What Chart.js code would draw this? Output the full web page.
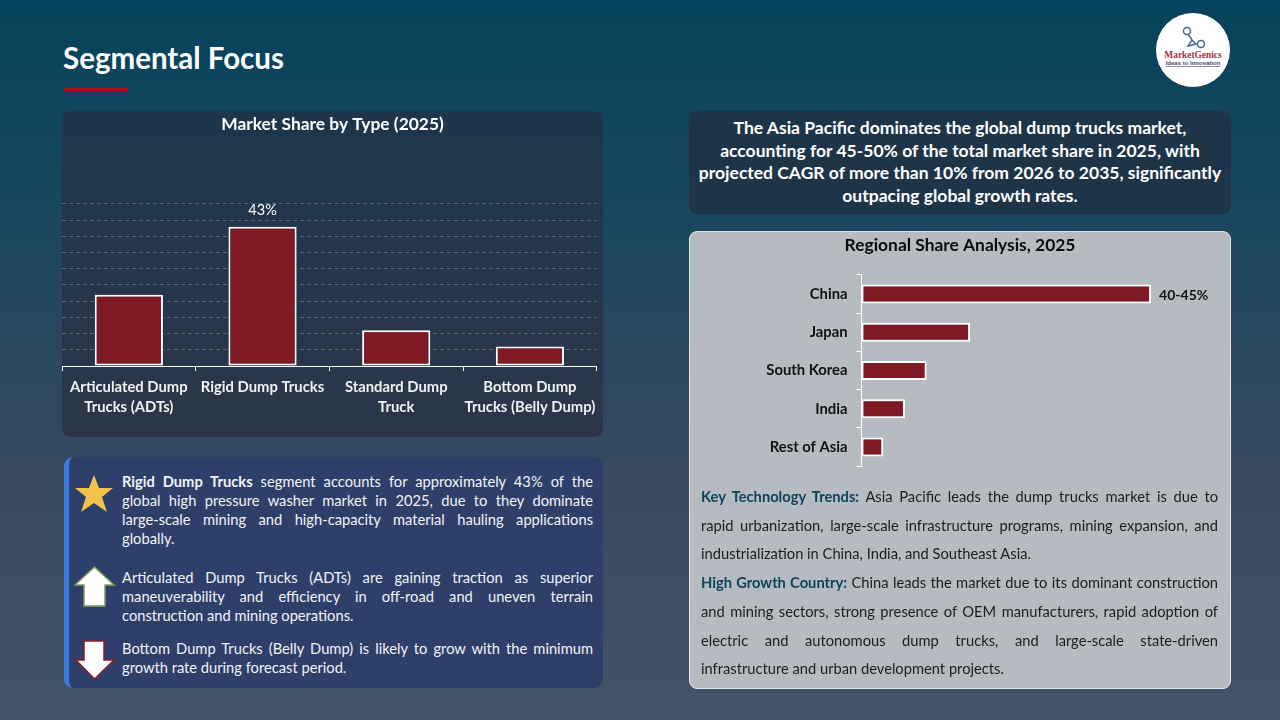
<!DOCTYPE html>
<html lang="en">
<head>
<meta charset="UTF-8" />
<title>Segmental Focus</title>
<style>
  body {
    margin: 0;
    width: 1280px;
    height: 720px;
    overflow: hidden;
    position: relative;
    font-family: 'Lato', 'Open Sans', sans-serif;
    background: linear-gradient(180deg, #04435b 0%, #1f4760 35%, #36495f 65%, #445368 100%);
    color: #fff;
  }
  .abs { position: absolute; }
  h1 {
    position: absolute;
    left: 63px;
    top: 40px;
    margin: 0;
    font-size: 29.5px;
    line-height: 36px;
    font-weight: 700;
  }
  .rule { left: 64px; top: 88px; width: 64px; height: 3px; background: #b30c14; }
  .panel-dark { background: #1e3549; border-radius: 8px; }
  #typePanel { left: 62px; top: 111px; width: 541px; height: 326px; border-radius: 8px; background: linear-gradient(180deg, #1d364b, #2d3649); }
  #headline {
    left: 689px; top: 111px; width: 542px; height: 103px;
    box-sizing: border-box; padding-top: 6px;
    text-align: center; font-weight: 700; font-size: 17.5px; line-height: 22.6px;
  }
  #regionPanel {
    left: 689px; top: 231px; width: 542px; height: 458px;
    box-sizing: border-box;
    background: #b6bbc2; border: 1px solid #dfe3e8; border-radius: 8px;
  }
  #notes {
    left: 64px; top: 457px; width: 539px; height: 231px;
    box-sizing: border-box;
    background: #2e3f69;
    border-left: 5px solid #3a7be0; border-radius: 9px;
  }
  .line { white-space: nowrap; text-align: justify; text-align-last: justify; }
  .line.end { text-align-last: left; }
  .block { position: absolute; font-size: 14.7px; }
  #notes .block { left: 53px; width: 471px; line-height: 19.3px; color: #f2f4f8; }
  #trends { left: 701px; top: 482px; width: 517px; font-size: 14.7px; line-height: 28.7px; color: #1c1c1c; position: absolute; }
  #trends b { color: #0c4658; }
  canvas { position: absolute; }
  #logo { left: 1154px; top: 11px; }
</style>
</head>
<body>
  <h1>Segmental Focus</h1>
  <div class="abs rule"></div>

  <svg id="logo" class="abs" width="78" height="78" viewBox="0 0 78 78">
    <circle cx="39" cy="39" r="37.5" fill="#fff" stroke="#0a3c50" stroke-width="1"/>
    <g fill="none" stroke="#4a6a94" stroke-width="1.5">
      <circle cx="33" cy="20" r="3.5"/><circle cx="47" cy="33" r="3.500"/>
      <path d="M34.500 23.500 L38 29 L34 35 L42 33 L38 29 M42 33 L44 33"/>
    </g>
    <text x="39" y="47" text-anchor="middle" font-family="'Liberation Serif', serif" font-weight="700" font-size="9.4" fill="#a2323f">MarketGenics</text>
    <text x="39" y="54" text-anchor="middle" font-family="'Liberation Sans', sans-serif" font-weight="700" font-size="6" fill="#4a3f7a" text-decoration="underline">Ideas to Innovation</text>
  </svg>

  <div id="typePanel" class="abs"><canvas id="typeChart" width="541" height="326"></canvas></div>

  <div id="headline" class="abs panel-dark">
    The Asia Pacific dominates the global dump trucks market,<br>
    accounting for 45-50% of the total market share in 2025, with<br>
    projected CAGR of more than 10% from 2026 to 2035, significantly<br>
    outpacing global growth rates.
  </div>

  <div id="regionPanel" class="abs"><canvas id="regionChart" width="540" height="252"></canvas></div>

  <div id="trends">
    <div class="line"><b>Key Technology Trends:</b> Asia Pacific leads the dump trucks market is due to</div>
    <div class="line">rapid urbanization, large-scale infrastructure programs, mining expansion, and</div>
    <div class="line end">industrialization in China, India, and Southeast Asia.</div>
    <div class="line"><b>High Growth Country:</b> China leads the market due to its dominant construction</div>
    <div class="line">and mining sectors, strong presence of OEM manufacturers, rapid adoption of</div>
    <div class="line">electric and autonomous dump trucks, and large-scale state-driven</div>
    <div class="line end">infrastructure and urban development projects.</div>
  </div>

  <div id="notes" class="abs">
    <div class="block" style="top:14.500px">
      <div class="line"><b>Rigid Dump Trucks</b> segment accounts for approximately 43% of the</div>
      <div class="line">global high pressure washer market in 2025, due to they dominate</div>
      <div class="line">large-scale mining and high-capacity material hauling applications</div>
      <div class="line end">globally.</div>
    </div>
    <div class="block" style="top:110.500px">
      <div class="line">Articulated Dump Trucks (ADTs) are gaining traction as superior</div>
      <div class="line">maneuverability and efficiency in off-road and uneven terrain</div>
      <div class="line end">construction and mining operations.</div>
    </div>
    <div class="block" style="top:182px">
      <div class="line">Bottom Dump Trucks (Belly Dump) is likely to grow with the minimum</div>
      <div class="line end">growth rate during forecast period.</div>
    </div>
  </div>

  <svg class="abs" style="left:0;top:0" width="140" height="720">
    <polygon fill="#f4c14c" points="94,475 99,488 113,488 102,497 107,512 94,503 81,512 86,497 75,488 89,488"/>
    <polygon fill="#fff" stroke="#7f9c5c" stroke-width="1.500" points="94.500,567 114,585 105,585 105,606 84,606 84,585 75,585"/>
    <polygon fill="#fff" stroke="#8c1c2b" stroke-width="1.500" points="84,641 104,641 104,660 114,660 94.500,679 76,660 84,660"/>
  </svg>

<script src="https://cdn.jsdelivr.net/npm/chart.js"></script>
<script>
  const typeCategories = [['Articulated Dump', 'Trucks (ADTs)'], 'Rigid Dump Trucks', ['Standard Dump', 'Truck'], ['Bottom Dump', 'Trucks (Belly Dump)']];
  const typeValues = [22, 43, 11, 6];
  const typeLabels = ['', '43%', '', ''];

  const regionCategories = ['China', 'Japan', 'South Korea', 'India', 'Rest of Asia'];
  const regionValues = [40, 15, 9, 6, 3];
  const regionLabels = ['40-45%', '', '', '', ''];

  const FONT = "'Lato', 'Open Sans', sans-serif";
  const BAR_FILL = '#7f1a24';

  // small replacement for the datalabels plugin, which is not available here
  function barLabelPlugin(labels, font, color, horizontal) {
    return {
      id: 'barLabels',
      afterDatasetsDraw(chart) {
        const ctx = chart.ctx;
        ctx.save();
        ctx.font = font;
        ctx.fillStyle = color;
        ctx.textBaseline = 'middle';
        chart.getDatasetMeta(0).data.forEach((bar, i) => {
          if (!labels[i]) return;
          if (horizontal) {
            ctx.textAlign = 'left';
            ctx.fillText(labels[i], bar.x + 8, bar.y + 1);
          } else {
            ctx.textAlign = 'center';
            ctx.fillText(labels[i], bar.x, bar.y - 16);
          }
        });
        ctx.restore();
      }
    };
  }

  // keep the title centred on the whole panel, not on the padded plot
  const fullWidthTitle = {
    id: 'fullWidthTitle',
    afterLayout(chart) { chart.titleBlock.right = chart.width; }
  };

  new Chart(document.getElementById('typeChart'), {
    type: 'bar',
    data: {
      labels: typeCategories,
      datasets: [{
        data: typeValues,
        backgroundColor: BAR_FILL,
        borderColor: '#ffffff',
        borderWidth: 2,
        borderSkipped: false,
        categoryPercentage: 0.51,
        barPercentage: 1
      }]
    },
    options: {
      responsive: false,
      animation: false,
      layout: { padding: { left: 0, right: 6, top: 0, bottom: 0 } },
      plugins: {
        legend: { display: false },
        tooltip: { enabled: false },
        title: {
          display: true,
          text: 'Market Share by Type (2025)',
          color: '#ffffff',
          font: { family: FONT, size: 17.4, weight: '700', lineHeight: 1.2 },
          padding: { top: 2.5, bottom: 69.6 }
        }
      },
      scales: {
        x: {
          afterFit(scale) { scale.height = 71; },
          border: { color: '#ffffff', width: 1 },
          grid: { drawOnChartArea: false, tickColor: '#ffffff', tickLength: 5 },
          ticks: {
            color: '#f0f2f4',
            autoSkip: false,
            maxRotation: 0,
            padding: 7,
            font: { family: FONT, size: 14.8, weight: '700', lineHeight: 1.3 }
          }
        },
        y: {
          min: 0,
          max: 50,
          afterFit(scale) { scale.width = 0; },
          border: { display: false, dash: [4, 3] },
          grid: { color: 'rgba(255,255,255,0.25)', drawTicks: false },
          ticks: { display: false, stepSize: 5 }
        }
      }
    },
    plugins: [barLabelPlugin(typeLabels, '14.5px ' + FONT, '#ffffff', false), fullWidthTitle]
  });

  new Chart(document.getElementById('regionChart'), {
    type: 'bar',
    data: {
      labels: regionCategories,
      datasets: [{
        data: regionValues,
        backgroundColor: BAR_FILL,
        borderColor: '#ffffff',
        borderWidth: 2,
        borderSkipped: false,
        categoryPercentage: 0.5,
        barPercentage: 1
      }]
    },
    options: {
      indexAxis: 'y',
      responsive: false,
      animation: false,
      layout: { padding: { right: 21, bottom: 0 } },
      plugins: {
        legend: { display: false },
        tooltip: { enabled: false },
        title: {
          display: true,
          text: 'Regional Share Analysis, 2025',
          color: '#0b0b0b',
          font: { family: FONT, size: 17.4, weight: '700', lineHeight: 1.2 },
          padding: { top: 3, bottom: 19 }
        }
      },
      scales: {
        x: { display: false, min: 0, max: 48 },
        y: {
          afterFit(scale) { scale.width = 171.5; },
          border: { color: '#ffffff', width: 1 },
          grid: { drawOnChartArea: false, tickColor: '#ffffff', tickLength: 5 },
          ticks: {
            color: '#111111',
            padding: 9,
            font: { family: FONT, size: 14.8, weight: '700' }
          }
        }
      }
    },
    plugins: [barLabelPlugin(regionLabels, '700 14px ' + FONT, '#111111', true), fullWidthTitle]
  });
</script>
</body>
</html>
